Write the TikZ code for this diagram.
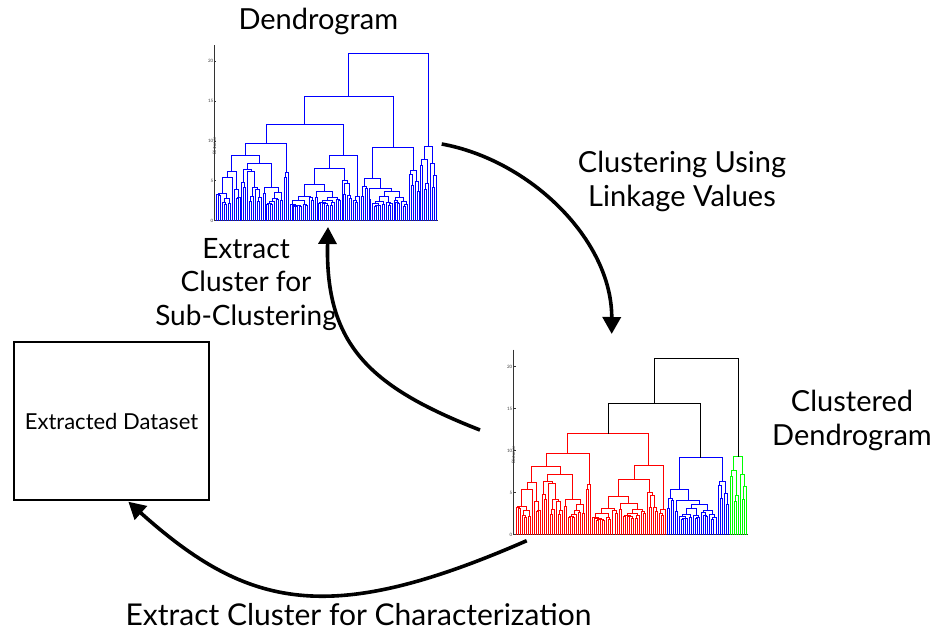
\documentclass[tikz,border=0pt]{standalone}
\usepackage{fontspec}
\setmainfont{Lato}
\usetikzlibrary{arrows.meta}

% ---------- small pseudo-random generator (same sequence for each tree) ----------
\newcount\dseed
\newcount\dtmpa
\newcount\dtmpb
\newcommand\drand{%
  \dtmpa=\numexpr\dseed*171\relax
  \dtmpb=\dtmpa \divide\dtmpb by 30269 \multiply\dtmpb by 30269
  \advance\dtmpa by -\dtmpb
  \global\dseed=\dtmpa
  \pgfmathsetmacro\dr{\the\numexpr\dseed*999/30269\relax/1000}%
}
\def\dhmin{1.6}

% leaf position / distance -> pixel centre (origin \dxo,\dyo; scales \dsx,\dsy)
\newcommand\dmap[2]{%
  \pgfmathsetmacro\dmx{round(\dxo+\dsx*(#1))+0.5}%
  \pgfmathsetmacro\dmy{round(\dyo-\dsy*(#2))+0.5}%
}
% append one link (x1,h1)-(x1,h)-(x2,h)-(x2,h2) to \dpath
\newcommand\daddlink[5]{%
  \dmap{#1}{#2}\let\dax\dmx\let\day\dmy
  \dmap{#3}{#4}\let\dcx\dmx\let\dcy\dmy
  \dmap{#1}{#5}\let\dby\dmy
  \xdef\dpath{\unexpanded\expandafter{\dpath}
    (\dax,\day) -- (\dax,\dby) -- (\dcx,\dby) -- (\dcx,\dcy)}%
}

% random sub-tree: first leaf, number of leaves, height of its top link;
% its links are appended to \dpath, \dtx = leaf position of its top
\newcommand\dsub[3]{%
  \begingroup
  \edef\df{#1}\edef\dn{#2}\edef\dh{#3}%
  \ifnum\dn=1\relax
    \xdef\dtx{\df}%
  \else
    \drand
    \pgfmathtruncatemacro\nl{1+\dr*(\dn-1)}%
    \pgfmathtruncatemacro\nr{\dn-\nl}%
    \drand
    \pgfmathsetmacro\hl{ifthenelse(\nl==1,0,\dhmin+(\dh-\dhmin)*(0.45+0.5*\dr))}%
    \drand
    \pgfmathsetmacro\hr{ifthenelse(\nr==1,0,\dhmin+(\dh-\dhmin)*(0.45+0.5*\dr))}%
    \pgfmathtruncatemacro\fr{\df+\nl}%
    \dsub{\df}{\nl}{\hl}\let\xl\dtx
    \dsub{\fr}{\nr}{\hr}\let\xr\dtx
    \daddlink{\xl}{\hl}{\xr}{\hr}{\dh}%
    \pgfmathsetmacro\xm{(\xl+\xr)/2}%
    \xdef\dtx{\xm}%
  \fi
  \endgroup
}

% link joining two tops: x1 h1 x2 h2 height colour
\newcommand\djoin[6]{%
  \gdef\dpath{}%
  \daddlink{#1}{#2}{#3}{#4}{#5}%
  \draw[dline,draw=#6] \dpath;
  \pgfmathsetmacro\djx{(#1+#3)/2}%
  \xdef\dtx{\djx}%
}

% one random sub-tree drawn in one colour: first leaf, leaves, height, colour
\newcommand\dgroup[4]{%
  \gdef\dpath{}%
  \dsub{#1}{#2}{#3}%
  \draw[dline,draw=#4] \dpath;
}

% the whole hierarchy (115 leaves), coloured by \cR \cB \cG \cK
\newcommand\drawtree{%
  \global\dseed=12345
  \dgroup{1}{13}{6.2}{\cR}\let\xA\dtx
  \dgroup{14}{22}{7.1}{\cR}\let\xB\dtx
  \djoin{\xA}{6.2}{\xB}{7.1}{8.1}{\cR}\let\xAB\dtx
  \dgroup{36}{3}{6.0}{\cR}\let\xC\dtx
  \djoin{\xAB}{8.1}{\xC}{6.0}{9.6}{\cR}\let\xL\dtx
  \dgroup{39}{33}{6.5}{\cR}\let\xD\dtx
  \dgroup{72}{4}{3.0}{\cR}\let\xE\dtx
  \djoin{\xD}{6.5}{\xE}{3.0}{8.2}{\cR}\let\xRt\dtx
  \djoin{\xL}{9.6}{\xRt}{8.2}{12}{\cR}\let\xRed\dtx
  \dgroup{76}{25}{5.3}{\cB}\let\xF\dtx
  \dgroup{101}{6}{6.3}{\cB}\let\xG\dtx
  \djoin{\xF}{5.3}{\xG}{6.3}{9.2}{\cB}\let\xBlue\dtx
  \dgroup{107}{5}{7.6}{\cG}\let\xH\dtx
  \dgroup{112}{4}{7.2}{\cG}\let\xI\dtx
  \djoin{\xH}{7.6}{\xI}{7.2}{9.3}{\cG}\let\xGreen\dtx
  \djoin{\xRed}{12}{\xBlue}{9.2}{15.6}{\cK}\let\xM\dtx
  \djoin{\xM}{15.6}{\xGreen}{9.3}{21}{\cK}%
}

% axes with ticks and the Distance label; #1 = name prefix
\newcommand\drawaxes[1]{%
  \draw[axisln] (0,22) -- (0,0) -- (116,0);
  \foreach \v in {0,5,10,15,20} {
    \draw[axisln] (0,\v) -- (1,\v);
    \node[ticklbl,anchor=east] (#1-t\v) at (0,\v) {\v};
  }
  \node[ticklbl,rotate=90] (#1-dist) at (0,11) [xshift=-13pt] {Distance};
}

\tikzset{
  dline/.style={line width=1.3pt},
  axisln/.style={line width=0.6pt, draw=black!80},
  ticklbl/.style={font=\fontsize{4.5}{5}\selectfont, text=black!75, inner sep=1pt},
  flow/.style={line width=3.6pt, -{Triangle[length=17pt,width=18pt]}},
  lbl/.style={font=\fontsize{29}{33.3}\selectfont, align=center, anchor=base},
}

\begin{document}
\begin{tikzpicture}[x=1pt,y=-1pt]
\useasboundingbox (0,0) rectangle (938,630);

% ---- plain dendrogram ----
\begin{scope}[shift={(214.5,220.5)}, xscale=1.925, yscale=-7.97]
  \drawaxes{top}
\end{scope}
\def\dxo{214.5}\def\dsx{1.925}\def\dyo{220}\def\dsy{7.97}
\def\cR{blue}\def\cB{blue}\def\cG{blue}\def\cK{blue}
\drawtree
\node[lbl] (title) at (318.3,29.3) {Dendrogram};

% ---- clustered dendrogram ----
\begin{scope}[shift={(513.5,534.5)}, xscale=2.02, yscale=-8.4]
  \drawaxes{bot}
\end{scope}
\def\dxo{513.5}\def\dsx{2.02}\def\dyo{534}\def\dsy{8.4}
\def\cR{red}\def\cB{blue}\def\cG{green}\def\cK{black}
\drawtree
% multi-line labels: anchor=base sits on the last line
\node[lbl] (ctitle) at (852,445) {Clustered\\Dendrogram};

% ---- extracted data set ----
\node[draw, line width=2.4pt, minimum width=195pt, minimum height=158pt,
      font=\fontsize{22}{25}\selectfont] (box) at (111.5,421) {Extracted Dataset};

% ---- process arrows ----
\coordinate (c1s) at (441.7,144);
\coordinate (c1e) at (611.7,334);
\draw[flow] (c1s) .. controls (530,160) and (612,240) .. (c1e);
\node[lbl] (l1) at (682,206) {Clustering Using\\Linkage Values};

\coordinate (c2s) at (480,430);
\coordinate (c2e) at (328,227);
\draw[flow] (c2s) .. controls (370,387) and (325,345) .. (c2e);
\node[lbl, font=\fontsize{28}{33.3}\selectfont] (l2) at (246,325) {Extract\\Cluster for\\Sub-Clustering};

\coordinate (c3s) at (526.7,540.7);
\coordinate (c3e) at (128.3,501.7);
\draw[flow] (c3s) .. controls (329,627) and (248,609) .. (c3e);
\node[lbl, font=\fontsize{30}{35}\selectfont, inner sep=0pt, text depth=0pt]
  (l3) at (358.5,625) {Extract Cluster for Characterization};
\end{tikzpicture}
\end{document}
